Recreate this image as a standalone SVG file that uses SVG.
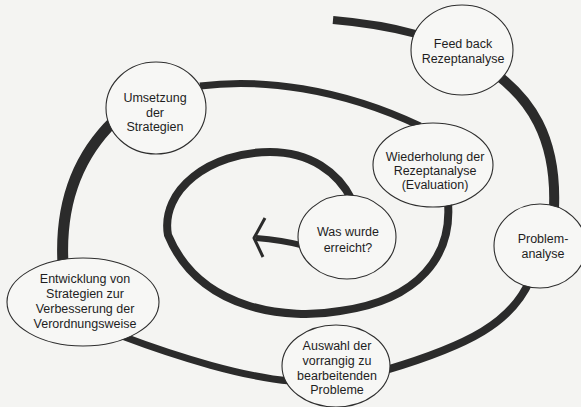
<svg xmlns="http://www.w3.org/2000/svg" width="581" height="407" viewBox="0 0 581 407">
<style>
.bg{fill:#f4f4f2}
.sp{fill:none;stroke:#2b2b2b;stroke-linecap:butt;stroke-linejoin:round}
.nd{fill:#f7f7f5;stroke:#2e2e2e;stroke-width:1.1}
.tx{font-family:"Liberation Sans",Arial,sans-serif;font-size:12.5px;fill:#1e1e1e;text-anchor:middle}
</style>
<rect class="bg" x="0" y="0" width="581" height="407"/>
<g id="connectors">
  <path class="sp" stroke-width="8" d="M333,20 Q380,24 416,34"/>
  <path class="sp" stroke-width="10" d="M496,74 C528,98 557,135 554,208"/>
  <path class="sp" stroke-width="8" d="M530,280 C512,322 470,345 386,370"/>
  <path class="sp" stroke-width="7" d="M290,381 C245,377 180,358 122,336"/>
  <path class="sp" stroke-width="11" d="M63,264 C60,210 74,160 114,121"/>
  <path class="sp" stroke-width="7" d="M200,86 C260,78 340,88 420,126"/>
  <path class="sp" stroke-width="8" d="M448,203 C452,255 420,300 340,311 C290,320 200,312 168,235 C160,190 210,152 270,152 C310,152 338,172 352,200"/>
  <path class="sp" stroke-width="6" d="M305,246 Q282,240 256,238"/>
  <path class="sp" stroke-width="3" d="M265,218 L254,238 L263,257"/>
</g>
<g id="feedback">
  <ellipse class="nd" cx="462" cy="50" rx="51" ry="45"/>
  <text class="tx" x="463" y="47.5">Feed back</text>
  <text class="tx" x="463" y="62.5">Rezeptanalyse</text>
</g>
<g id="umsetzung">
  <ellipse class="nd" cx="156" cy="108" rx="50" ry="46"/>
  <text class="tx" x="155" y="101.5">Umsetzung</text>
  <text class="tx" x="155" y="116.5">der</text>
  <text class="tx" x="155" y="130.5">Strategien</text>
</g>
<g id="wiederholung">
  <ellipse class="nd" cx="433" cy="165" rx="60" ry="42"/>
  <text class="tx" x="435" y="161">Wiederholung der</text>
  <text class="tx" x="435" y="175">Rezeptanalyse</text>
  <text class="tx" x="435" y="189">(Evaluation)</text>
</g>
<g id="waswurde">
  <ellipse class="nd" cx="347" cy="237" rx="49" ry="42"/>
  <text class="tx" x="348" y="235.5">Was wurde</text>
  <text class="tx" x="348" y="252">erreicht?</text>
</g>
<g id="problemanalyse">
  <ellipse class="nd" cx="540" cy="246" rx="46" ry="42"/>
  <text class="tx" x="543" y="243">Problem-</text>
  <text class="tx" x="543" y="258">analyse</text>
</g>
<g id="entwicklung">
  <ellipse class="nd" cx="83" cy="302" rx="76" ry="44"/>
  <text class="tx" x="85" y="282.5">Entwicklung von</text>
  <text class="tx" x="85" y="297.5">Strategien zur</text>
  <text class="tx" x="85" y="312.5">Verbesserung der</text>
  <text class="tx" x="85" y="327.5">Verordnungsweise</text>
</g>
<g id="auswahl">
  <ellipse class="nd" cx="336" cy="366" rx="54" ry="41"/>
  <text class="tx" x="337" y="349.5">Auswahl der</text>
  <text class="tx" x="337" y="364.5">vorrangig zu</text>
  <text class="tx" x="337" y="379.5">bearbeitenden</text>
  <text class="tx" x="337" y="393.5">Probleme</text>
</g>
</svg>
